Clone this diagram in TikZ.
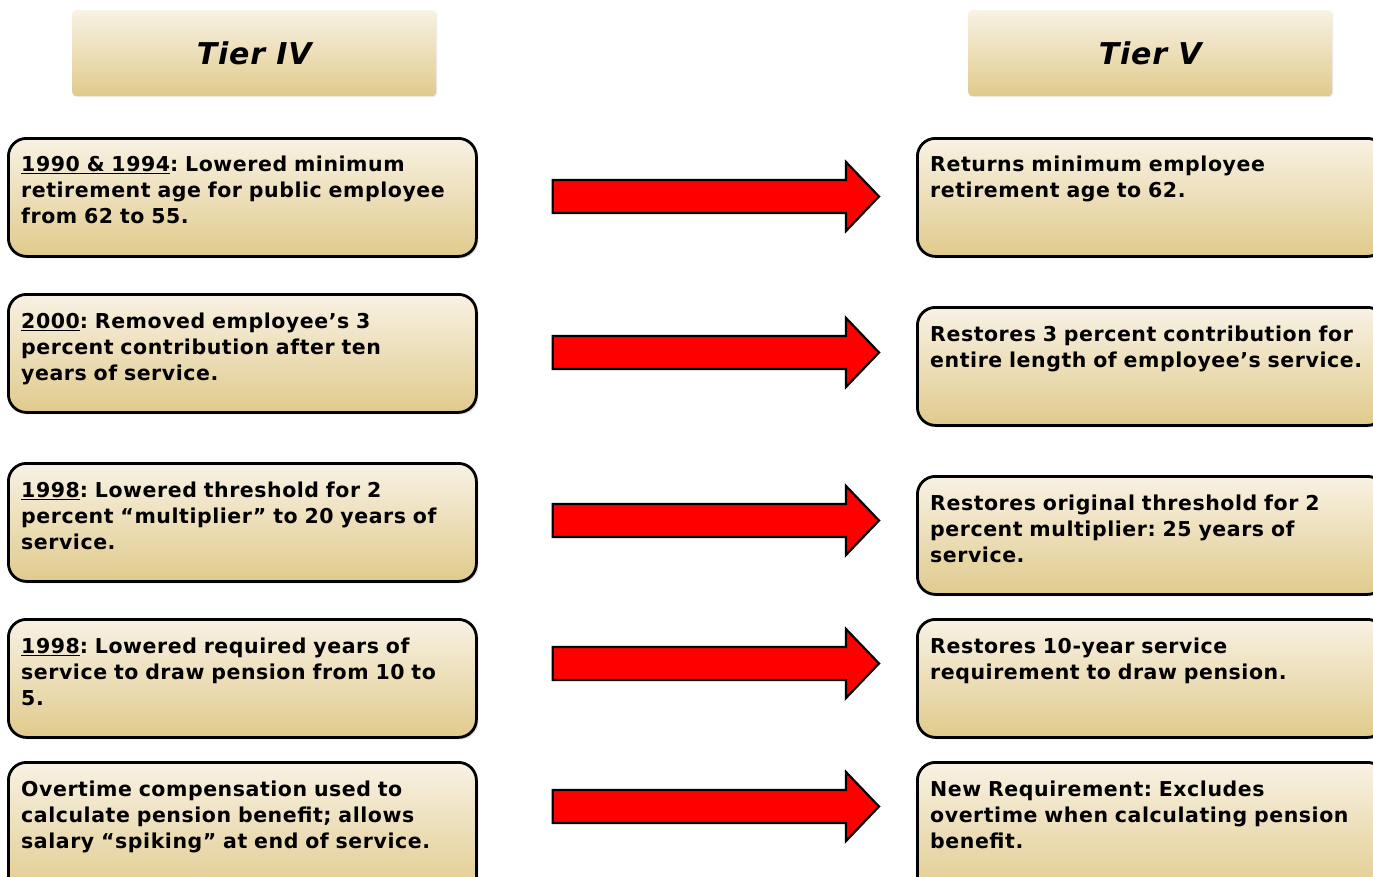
\documentclass[tikz,border=0pt]{standalone}
\usepackage{fontspec}
\setmainfont[LetterSpace=2.7]{DejaVu Sans}
\usepackage{tikz}
\usetikzlibrary{calc,shadows}
\definecolor{sandtop}{HTML}{F8F2E4}
\definecolor{sandbot}{HTML}{E0CA8C}
\definecolor{arrowred}{HTML}{FF0000}
\frenchspacing

\begin{document}
\begin{tikzpicture}[x=1pt,y=1pt,font=\fontsize{20.5}{26}\selectfont\bfseries]
  \tikzstyle{head}=[anchor=north west,minimum width=364pt,minimum height=86pt,inner sep=0pt,rounded corners=4pt,top color=sandtop,bottom color=sandbot,drop shadow={shadow xshift=1pt,shadow yshift=-1pt,opacity=0.15},font=\fontsize{30}{36}\selectfont\bfseries\itshape]
  \tikzstyle{panel}=[anchor=north west,minimum width=468pt,minimum height=118pt,inner sep=0pt,draw=black,line width=2.8pt,rounded corners=18pt,top color=sandtop,bottom color=sandbot,drop shadow={shadow xshift=2pt,shadow yshift=-2pt,opacity=0.25}]
  \tikzstyle{blurb}=[anchor=north west,text width=455pt,align=left,inner sep=0pt]
  \tikzstyle{fat}=[draw=black,line width=2.2pt,fill=arrowred,line join=miter]

  \clip (0,0) rectangle (1373,-876);

  % column headings
  \node[head] (h4) at (72,-10) {Tier IV};
  \node[head] (h5) at (968,-10) {Tier V};

  % Tier IV
  \node[panel] (l1) at (7,-137) {};
  \node[panel] (l2) at (7,-293) {};
  \node[panel] (l3) at (7,-462) {};
  \node[panel] (l4) at (7,-618) {};
  \node[panel,minimum height=135pt] (l5) at (7,-761) {};

  % Tier V
  \node[panel] (r1) at (916,-137) {};
  \node[panel] (r2) at (916,-306) {};
  \node[panel] (r3) at (916,-475) {};
  \node[panel] (r4) at (916,-618) {};
  \node[panel,minimum height=135pt] (r5) at (916,-761) {};

  \node[blurb] (l1t) at ([shift={(14,-19)}]l1.north west) {\underline{1990 \& 1994}: Lowered minimum\\retirement age for public employee\\from 62 to 55.};
  \node[blurb] (l2t) at ([shift={(14,-20)}]l2.north west) {\underline{2000}: Removed employee’s 3\\percent contribution after ten\\years of service.};
  \node[blurb] (l3t) at ([shift={(14,-20)}]l3.north west) {\underline{1998}: Lowered threshold for 2\\percent “multiplier” to 20 years of\\service.};
  \node[blurb] (l4t) at ([shift={(14,-20)}]l4.north west) {\underline{1998}: Lowered required years of\\service to draw pension from 10 to\\5.};
  \node[blurb] (l5t) at ([shift={(14,-20)}]l5.north west) {Overtime compensation used to\\calculate pension benefit; allows\\salary “spiking” at end of service.};

  \node[blurb] (r1t) at ([shift={(14,-19)}]r1.north west) {Returns minimum employee\\retirement age to 62.};
  \node[blurb] (r2t) at ([shift={(14,-20)}]r2.north west) {Restores 3 percent contribution for\\entire length of employee’s service.};
  \node[blurb] (r3t) at ([shift={(14,-20)}]r3.north west) {Restores original threshold for 2\\percent multiplier: 25 years of\\service.};
  \node[blurb] (r4t) at ([shift={(14,-20)}]r4.north west) {Restores 10-year service\\requirement to draw pension.};
  \node[blurb] (r5t) at ([shift={(14,-20)}]r5.north west) {New Requirement: Excludes\\overtime when calculating pension\\benefit.};

  % block arrows from Tier IV to Tier V
  \foreach \i/\dy in {1/0,2/0,3/1,4/14,5/14}
    \draw[fat] let \p1=($(l\i.north east)+(75,-59.5+\dy)$), \p2=($(r\i.west)+(-37,0)$) in
      (\x1,\y1+16.5pt) -- (\x2-33pt,\y1+16.5pt) -- (\x2-33pt,\y1+34.5pt) -- (\x2,\y1)
      -- (\x2-33pt,\y1-34.5pt) -- (\x2-33pt,\y1-16.5pt) -- (\x1,\y1-16.5pt) -- cycle;
\end{tikzpicture}
\end{document}
